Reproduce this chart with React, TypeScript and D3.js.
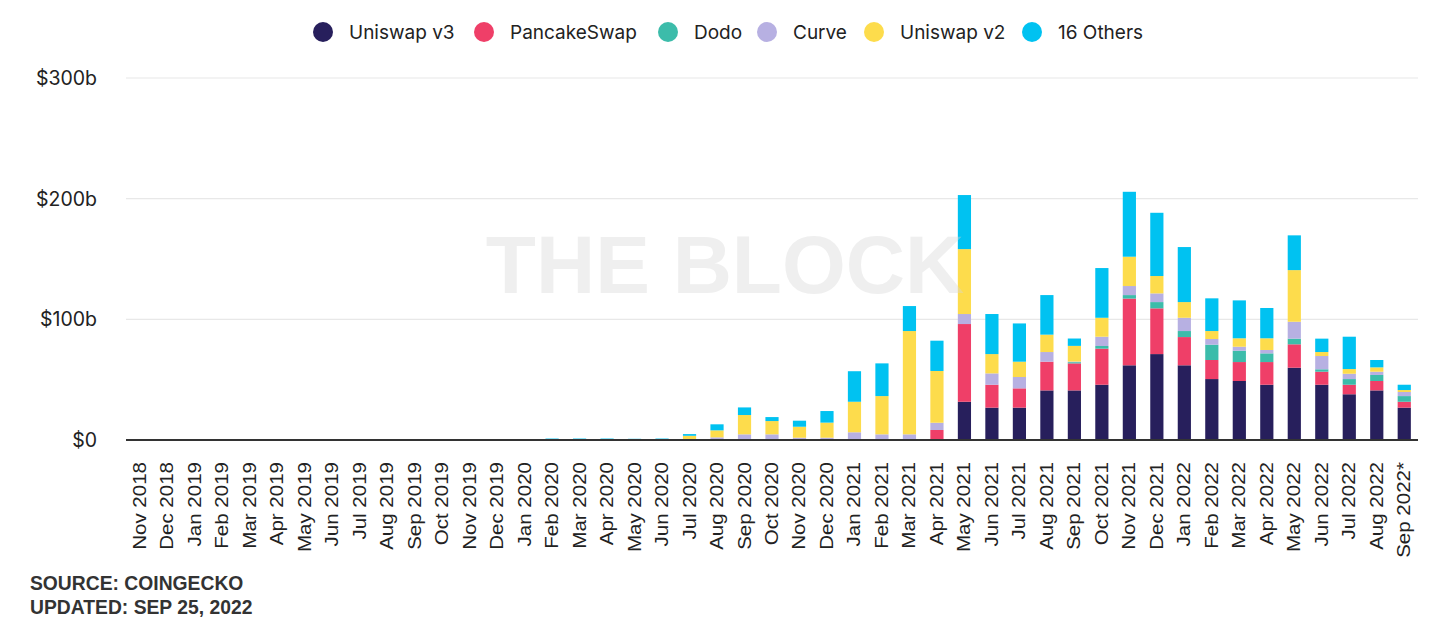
import * as d3 from "d3";

const months = [
  "Nov 2018", "Dec 2018", "Jan 2019", "Feb 2019", "Mar 2019", "Apr 2019", "May 2019", "Jun 2019",
  "Jul 2019", "Aug 2019", "Sep 2019", "Oct 2019", "Nov 2019", "Dec 2019", "Jan 2020", "Feb 2020",
  "Mar 2020", "Apr 2020", "May 2020", "Jun 2020", "Jul 2020", "Aug 2020", "Sep 2020", "Oct 2020",
  "Nov 2020", "Dec 2020", "Jan 2021", "Feb 2021", "Mar 2021", "Apr 2021", "May 2021", "Jun 2021",
  "Jul 2021", "Aug 2021", "Sep 2021", "Oct 2021", "Nov 2021", "Dec 2021", "Jan 2022", "Feb 2022",
  "Mar 2022", "Apr 2022", "May 2022", "Jun 2022", "Jul 2022", "Aug 2022", "Sep 2022*",
];

// monthly volume, $b
const uniswapV3 = [
  0, 0, 0, 0, 0, 0, 0, 0, 0, 0, 0, 0, 0, 0, 0, 0, 0, 0, 0, 0, 0, 0, 0, 0, 0, 0, 0, 0, 0, 0,
  31.7, 26.8, 26.8, 41.1, 41.1, 45.8, 61.9, 71.2, 61.9, 50.5, 48.9, 45.8, 59.9, 45.8, 37.9, 41.1, 26.8,
];
const pancakeSwap = [
  0, 0, 0, 0, 0, 0, 0, 0, 0, 0, 0, 0, 0, 0, 0, 0, 0, 0, 0, 0, 0, 0, 0, 0, 0, 0, 0, 0, 0,
  8.3, 64.4, 19, 16, 23.8, 22.4, 29.9, 55.3, 37.9, 23.4, 15.8, 15.7, 18.8, 19.4, 10.8, 7.9, 7.8, 4.9,
];
const dodo = [
  0, 0, 0, 0, 0, 0, 0, 0, 0, 0, 0, 0, 0, 0, 0, 0, 0, 0, 0, 0, 0, 0, 0, 0, 0, 0, 0, 0, 0, 0, 0, 0, 0, 0,
  1, 2.2, 2.9, 5.2, 5, 12.7, 9.4, 7.2, 4.7, 2, 4.7, 5, 4.7,
];
const curve = [
  0, 0, 0, 0, 0, 0, 0, 0, 0, 0, 0, 0, 0, 0, 0, 0, 0, 0, 0, 0,
  0.8, 2.2, 4.7, 4.7, 1.9, 1.9, 6.4, 4.7, 4.7, 6, 8.3, 9.4, 9.4, 8, 0.5, 7.7, 7.5, 7.2, 11, 4.7, 3.3,
  2.8, 14, 11, 4.4, 2.7, 3.4,
];
const uniswapV2 = [
  0, 0, 0, 0, 0, 0, 0, 0, 0, 0, 0, 0, 0, 0, 0, 0, 0, 0, 0, 0,
  2.7, 5.8, 16, 11, 9.1, 12.5, 25.3, 31.7, 85.6, 42.9, 53.8, 16, 12.7, 14.4, 13, 15.7, 24.3, 14.4, 13,
  6.6, 7, 9.7, 42.8, 3.3, 3.9, 3.6, 1.6,
];
const others = [
  0, 0, 0, 0, 0, 0, 0, 0, 0, 0, 0, 0, 0, 0, 0,
  1.2, 1.2, 1.2, 1.0, 1.2, 1.4, 5, 6.3, 3.3, 5, 9.6, 25.3, 27.1, 20.7, 25.1, 44.8, 33.2, 31.7, 32.8,
  6.1, 41.2, 53.8, 52.4, 45.6, 27.1, 31.4, 25.1, 28.8, 11.1, 26.8, 6.1, 4.4,
];

const seriesNames = ["Uniswap v3", "PancakeSwap", "Dodo", "Curve", "Uniswap v2", "16 Others"];
const seriesValues = [uniswapV3, pancakeSwap, dodo, curve, uniswapV2, others];
const seriesColors = ["#271f5c", "#ef3f68", "#3cbcaa", "#b7b0e2", "#fddc4c", "#00c2f1"];
const yTicks = [0, 100, 200, 300];

const W = 1456;
const H = 628;
const plot = { left: 126, right: 1418, top: 78, bottom: 440 };

export default function App() {
  const rows = months.map((m, i) => {
    const r: Record<string, any> = { month: m };
    seriesNames.forEach((s, k) => (r[s] = seriesValues[k][i]));
    return r;
  });
  const stacked = d3.stack<any>().keys(seriesNames)(rows);

  const x = d3.scaleBand<string>().domain(months).range([plot.left, plot.right]).paddingInner(0.52).paddingOuter(0.26);
  const y = d3.scaleLinear().domain([0, 300]).range([plot.bottom, plot.top]);
  const color = d3.scaleOrdinal<string, string>().domain(seriesNames).range(seriesColors);

  const legendX = [323, 484, 668, 767, 874, 1032];

  return (
    <svg width={W} height={H} style={{ position: "absolute", left: 0, top: 0, background: "#fff" }}>
      {/* legend */}
      {seriesNames.map((s, i) => (
        <g key={s} transform={`translate(${legendX[i]},32)`}>
          <circle r={10} fill={color(s)} />
          <text x={26} dy="0.36em" fontFamily="Inter, 'Noto Sans', sans-serif" fontSize={19} fill="#222">
            {s}
          </text>
        </g>
      ))}

      {/* gridlines and y labels */}
      {yTicks.map((t) => (
        <g key={t}>
          {t > 0 && <line x1={plot.left} x2={plot.right} y1={y(t)} y2={y(t)} stroke="#e8e8e8" strokeWidth={1.2} />}
          <text x={97} y={y(t)} dy="0.36em" textAnchor="end" fontFamily="Inter, 'Noto Sans', sans-serif" fontSize={19.5} fill="#222">
            {t === 0 ? "$0" : `$${t}b`}
          </text>
        </g>
      ))}

      {/* bars */}
      {stacked.map((layer) => (
        <g key={layer.key} fill={color(layer.key)}>
          {layer.map((d, i) =>
            d[1] - d[0] > 0 ? (
              <rect key={i} x={x(months[i])} width={x.bandwidth()} y={y(d[1])} height={y(d[0]) - y(d[1])} />
            ) : null
          )}
        </g>
      ))}

      {/* watermark */}
      <text x={725} y={293} textAnchor="middle" fontFamily="'Liberation Sans', Arial, sans-serif" fontWeight="bold" fontSize={82} fill="#d8d8d8" opacity={0.4}>
        THE BLOCK
      </text>

      {/* baseline */}
      <line x1={plot.left} x2={plot.right} y1={plot.bottom} y2={plot.bottom} stroke="#333" strokeWidth={2} />

      {/* x labels */}
      {months.map((m) => (
        <text
          key={m}
          transform={`translate(${x(m)! + x.bandwidth() / 2 + 6},462) rotate(-90) scale(1.14,1)`}
          textAnchor="end"
          fontFamily="'Liberation Sans', Arial, sans-serif"
          fontSize={18}
          fill="#222"
        >
          {m}
        </text>
      ))}

      {/* footer */}
      <g fontFamily="'Liberation Sans Narrow', 'Liberation Sans', Arial, sans-serif" fontWeight="bold" fontSize={21} fill="#333">
        <text x={30} y={590} transform="translate(30,0) scale(0.92,1) translate(-30,0)">SOURCE: COINGECKO</text>
        <text x={30} y={614} transform="translate(30,0) scale(0.92,1) translate(-30,0)">UPDATED: SEP 25, 2022</text>
      </g>
    </svg>
  );
}
